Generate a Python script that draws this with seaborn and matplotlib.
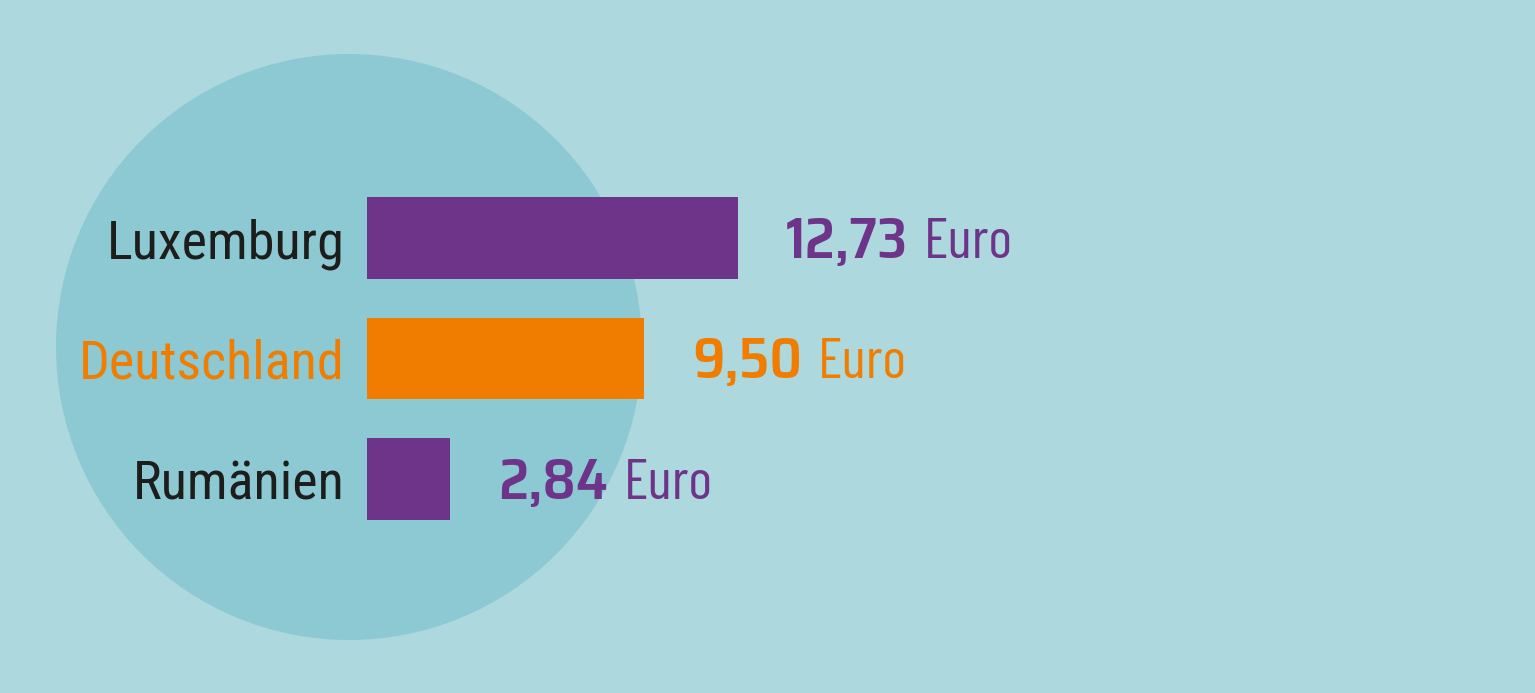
import pandas as pd
import matplotlib.pyplot as plt
import seaborn as sns
from matplotlib.patches import Ellipse

# Data
countries = ['Luxemburg', 'Deutschland', 'Rumänien']
wages = [12.73, 9.50, 2.84]
value_labels = ['12,73', '9,50', '2,84']

# Colours
BG = '#acd8de'
CIRCLE = '#8cc9d2'
PURPLE = '#6e3489'
ORANGE = '#f07d00'
DARK = '#1d1d1b'
bar_colors = {'Luxemburg': PURPLE, 'Deutschland': ORANGE, 'Rumänien': PURPLE}
name_colors = {'Luxemburg': DARK, 'Deutschland': ORANGE, 'Rumänien': DARK}

df = pd.DataFrame({'Land': countries, 'Lohn': wages})

sns.set_style('white')
plt.rcParams['font.family'] = ['Roboto Condensed', 'DejaVu Sans']
NUM_FONT = ['Saira SemiCondensed', 'DejaVu Sans']
UNIT_FONT = ['Barlow Condensed', 'DejaVu Sans']

fig = plt.figure(figsize=(15.35, 6.93), dpi=100, facecolor=BG)
ax = fig.add_axes([0, 0, 1, 1])
ax.set_facecolor(BG)

sns.barplot(data=df, x='Lohn', y='Land', hue='Land', palette=bar_colors,
            orient='h', width=0.68, saturation=1, linewidth=0, legend=False,
            ax=ax, zorder=2)

# pixel scale: 29.15 px per Euro, 120.5 px per bar row
px_x, px_y = 29.15, 120.5
ax.set_xlim(-367 / px_x, (1535 - 367) / px_x)
ax.set_ylim((693 - 238) / px_y, -238 / px_y)

# background circle
ax.add_patch(Ellipse(((349 - 367) / px_x, (347 - 238) / px_y),
                     2 * 293 / px_x, 2 * 293 / px_y,
                     facecolor=CIRCLE, edgecolor='none', zorder=0))

# category names
for i, name in enumerate(countries):
    ax.annotate(name, xy=(0, i), xytext=(-22, -20), textcoords='offset pixels',
                ha='right', va='baseline', fontsize=39, color=name_colors[name])

# value labels
for i, (val, lab) in enumerate(zip(wages, value_labels)):
    color = bar_colors[countries[i]]
    t = ax.annotate(lab, xy=(val, i), xytext=(48, -20), textcoords='offset pixels',
                    ha='left', va='baseline', fontsize=41, fontweight=600,
                    family=NUM_FONT, color=color)
    ax.annotate('Euro', xy=(1, 0), xycoords=t, xytext=(16, 0), textcoords='offset pixels',
                ha='left', va='bottom', fontsize=41, family=UNIT_FONT, color=color)

ax.set_axis_off()
fig.savefig('out.png', dpi=100, facecolor=BG)
